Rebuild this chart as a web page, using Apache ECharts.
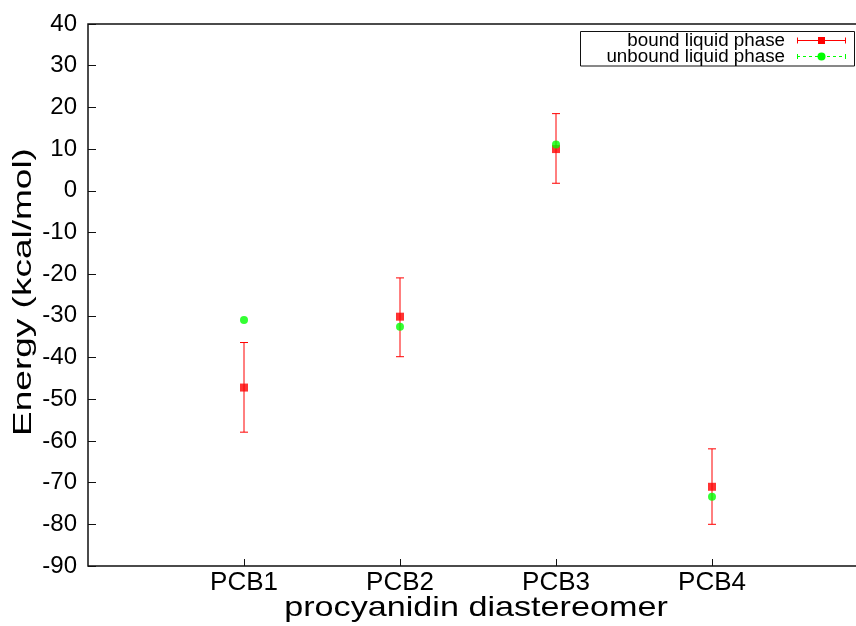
<!DOCTYPE html>
<html>
<head>
<meta charset="utf-8">
<script src="https://cdn.jsdelivr.net/npm/echarts@6/dist/echarts.min.js"></script>
<style>
  html, body { margin: 0; padding: 0; background: #fff; }
  #chart { width: 856px; height: 626px; }
</style>
</head>
<body>
<div id="chart"></div>
<script>
// values
const categories = ['PCB1', 'PCB2', 'PCB3', 'PCB4'];
const boundMean = [-47.2, -30.2, 10.0, -71.0];
const boundLow = [-57.9, -39.8, 1.8, -80.0];
const boundHigh = [-36.4, -20.9, 18.5, -61.9];
const unboundMean = [-31.0, -32.6, 11.1, -73.4];
const yTicks = [-90, -80, -70, -60, -50, -40, -30, -20, -10, 0, 10, 20, 30, 40];

const FONT = 'Liberation Sans';
const pos = categories.map((c, i) => i + 1);

const chart = echarts.init(document.getElementById('chart'));

const errData = pos.map((x, i) => [x, boundLow[i], boundHigh[i]]);
const boundData = pos.map((x, i) => [x, boundMean[i]]);
const unboundData = pos.map((x, i) => [x, unboundMean[i]]);

const option = {
  animation: false,
  backgroundColor: '#fff',
  grid: {
    left: 88,
    top: 24,
    right: -12,   // gnuplot plot box runs past the image edge
    bottom: 60,
    outerBoundsMode: 'none',
    show: true,
    borderColor: '#111',
    borderWidth: 1.5
  },
  xAxis: {
    type: 'value',
    min: 0,
    max: 5,
    interval: 1,
    splitLine: { show: false },
    axisLine: { show: false, onZero: false },
    axisTick: {
      show: true,
      inside: true,
      length: 7,
      customValues: pos,
      lineStyle: { color: '#111', width: 1 }
    },
    axisLabel: {
      customValues: pos,
      formatter: v => categories[v - 1] || '',
      color: '#000',
      fontFamily: FONT,
      fontSize: 26,
      margin: 4
    }
  },
  yAxis: {
    type: 'value',
    min: yTicks[0],
    max: yTicks[yTicks.length - 1],
    interval: 10,
    splitLine: { show: false },
    axisLine: { show: false, onZero: false },
    axisTick: {
      show: true,
      inside: true,
      length: 8,
      lineStyle: { color: '#111', width: 1 }
    },
    axisLabel: {
      color: '#000',
      fontFamily: FONT,
      fontSize: 24,
      margin: 11
    }
  },
  series: [
    {
      name: 'bound error',
      type: 'custom',
      data: errData,
      z: 2,
      renderItem(params, api) {
        const x = api.value(0);
        const lo = api.coord([x, api.value(1)]);
        const hi = api.coord([x, api.value(2)]);
        const st = { stroke: '#ff0000', lineWidth: 1 };
        return {
          type: 'group',
          children: [
            { type: 'line', shape: { x1: lo[0], y1: lo[1], x2: hi[0], y2: hi[1] }, style: st },
            { type: 'line', shape: { x1: lo[0] - 4, y1: lo[1], x2: lo[0] + 4, y2: lo[1] }, style: st },
            { type: 'line', shape: { x1: hi[0] - 4, y1: hi[1], x2: hi[0] + 4, y2: hi[1] }, style: st }
          ]
        };
      }
    },
    {
      name: 'bound liquid phase',
      type: 'scatter',
      data: boundData,
      symbol: 'rect',
      symbolSize: 8,
      itemStyle: { color: '#ff0000' },
      z: 3
    },
    {
      name: 'unbound liquid phase',
      type: 'scatter',
      data: unboundData,
      symbol: 'circle',
      symbolSize: 8,
      itemStyle: { color: '#00ff00' },
      z: 4
    }
  ],
  graphic: [
    // axis titles (gnuplot output was stretched, hence the scale)
    {
      type: 'text',
      x: 476, y: 608,
      scaleX: 1.22,
      style: {
        text: 'procyanidin diastereomer',
        fontFamily: FONT, fontSize: 28, fill: '#000',
        textAlign: 'center', textVerticalAlign: 'middle'
      }
    },
    {
      type: 'text',
      x: 24, y: 292,
      rotation: Math.PI / 2,
      scaleX: 1.48,
      style: {
        text: 'Energy (kcal/mol)',
        fontFamily: FONT, fontSize: 25, fill: '#000',
        textAlign: 'center', textVerticalAlign: 'middle'
      }
    },
    // legend box
    {
      type: 'rect',
      shape: { x: 580.5, y: 31.5, width: 274, height: 34.5 },
      style: { fill: '#fff', stroke: '#111', lineWidth: 1 },
      z: 10
    },
    {
      type: 'text', x: 785, y: 41, z: 11,
      style: {
        text: 'bound liquid phase', fontFamily: FONT, fontSize: 18.8, fill: '#000',
        textAlign: 'right', textVerticalAlign: 'middle'
      }
    },
    {
      type: 'text', x: 785, y: 57, z: 11,
      style: {
        text: 'unbound liquid phase', fontFamily: FONT, fontSize: 18.8, fill: '#000',
        textAlign: 'right', textVerticalAlign: 'middle'
      }
    },
    { type: 'line', z: 11, shape: { x1: 797, y1: 40.5, x2: 846, y2: 40.5 }, style: { stroke: '#ff0000', lineWidth: 1 } },
    { type: 'line', z: 11, shape: { x1: 797.5, y1: 37.5, x2: 797.5, y2: 43.5 }, style: { stroke: '#ff0000', lineWidth: 1 } },
    { type: 'line', z: 11, shape: { x1: 845.5, y1: 37.5, x2: 845.5, y2: 43.5 }, style: { stroke: '#ff0000', lineWidth: 1 } },
    { type: 'rect', z: 12, shape: { x: 818, y: 37, width: 7, height: 7 }, style: { fill: '#ff0000' } },
    { type: 'line', z: 11, shape: { x1: 797, y1: 56.5, x2: 846, y2: 56.5 }, style: { stroke: '#00ff00', lineWidth: 1, lineDash: [3, 3] } },
    { type: 'line', z: 11, shape: { x1: 797.5, y1: 54, x2: 797.5, y2: 59 }, style: { stroke: '#00ff00', lineWidth: 1 } },
    { type: 'line', z: 11, shape: { x1: 845.5, y1: 54, x2: 845.5, y2: 59 }, style: { stroke: '#00ff00', lineWidth: 1 } },
    { type: 'circle', z: 12, shape: { cx: 821.5, cy: 56.5, r: 4 }, style: { fill: '#00ff00' } }
  ]
};

chart.setOption(option);
</script>
</body>
</html>
